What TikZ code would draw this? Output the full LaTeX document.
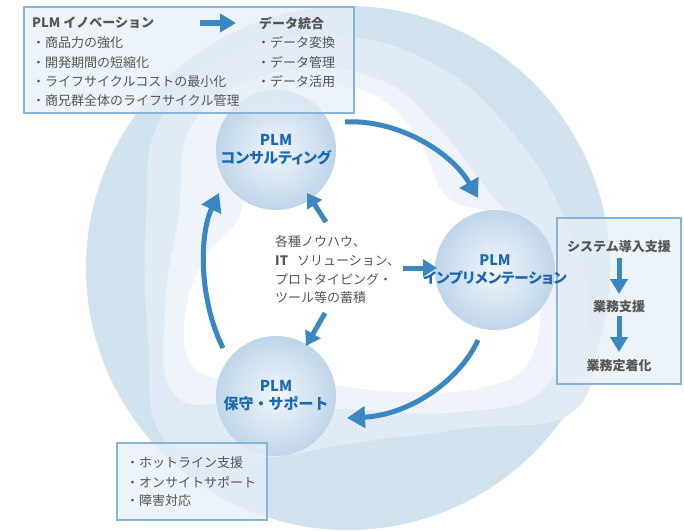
\documentclass[tikz,border=0pt]{standalone}
\usepackage{fontspec}
\setmainfont{Noto Sans CJK JP}
\newfontfamily\jpp{Noto Sans CJK JP}[RawFeature=+palt]
\usetikzlibrary{arrows.meta}
\definecolor{outerband}{HTML}{D1E2EF}
\definecolor{midband}{HTML}{E1EBF5}
\definecolor{lightband}{HTML}{EEF4FA}
\definecolor{boxline}{HTML}{86B4DA}
\definecolor{boxfill}{HTML}{E6EFF8}
\definecolor{arrowblue}{HTML}{3B87C2}
\definecolor{labelblue}{HTML}{1B69B0}
\definecolor{txt}{HTML}{555555}
\definecolor{sphereout}{HTML}{BFD5E9}
\definecolor{spherein}{HTML}{F2F7FC}
\begin{document}
\begin{tikzpicture}[x=1pt,y=-1pt,
  infobox/.style={draw=boxline, line width=1.1pt, fill=boxfill, fill opacity=0.75},
  sphere/.style={circle, minimum size=120pt, inner sep=0pt, inner color=spherein, outer color=sphereout},
  sphlabel/.style={text=labelblue, font=\jpp\fontsize{15}{18}\selectfont\bfseries, align=center, inner sep=0pt},
  sphlabelw/.style={text=labelblue, font=\fontsize{15}{18}\selectfont\bfseries, align=center, inner sep=0pt},
  item/.style={text=txt, font=\fontsize{13}{15}\selectfont, anchor=west, inner sep=0pt},
  bolditem/.style={text=txt, font=\fontsize{13}{15}\selectfont\bfseries, inner sep=0pt},
  bigarrow/.style={draw=arrowblue, line width=5pt, -{Triangle[length=18pt,width=21pt]}},
  smallarrow/.style={draw=arrowblue, line width=5pt, -{Triangle[length=14pt,width=17pt]}},
  boxarrow/.style={draw=arrowblue, line width=5pt, -{Triangle[length=15pt,width=17pt]}},
]
\useasboundingbox (0,0) rectangle (684,530);
\clip (0,0) rectangle (684,530);
\fill[white] (0,0) rectangle (684,530);
% background bands
\fill[outerband] (348,268) circle (262pt);
\fill[midband] plot[smooth cycle, tension=0.75] coordinates {
  (160,120) (230,55) (330,36) (430,62) (510,130) (565,220)
  (590,320) (575,410) (470,428) (360,442) (250,458) (165,440) (148,340) (146,220)};
\fill[lightband] plot[smooth cycle, tension=0.75] coordinates {
  (195,120) (280,72) (375,78) (440,130) (500,205) (552,250) (558,330)
  (540,392) (460,412) (360,410) (250,402) (175,395) (165,310) (178,220)};
\fill[white] plot[smooth cycle, tension=0.7] coordinates {
  (262,100) (330,86) (382,100) (420,142) (448,198) (510,222) (538,290)
  (530,360) (480,388) (400,392) (320,384) (230,380) (190,362) (186,310)
  (205,258) (240,215) (245,150)};
% spheres
\node[sphere] (cons) at (276,150) {};
\node[sphere] (impl) at (495,270) {};
\node[sphere] (supp) at (276,396) {};
% info boxes
\draw[infobox] (24,7) rectangle (354,113);
\draw[infobox] (557,218) rectangle (681,384);
\draw[infobox] (117,443) rectangle (267,520);
% sphere labels
\node[sphlabel] (consL) at (cons) {PLM\\コンサルティング};
\node[sphlabel, font=\jpp\fontsize{14.5}{18}\selectfont\bfseries] (implL) at (impl) {PLM\\インプリメンテーション};
\node[sphlabelw] (suppL) at (supp) {PLM\\保守・サポート};
% top-left box text
\node[bolditem, anchor=west] (tA) at (32,23) {PLM イノベーション};
\node[item] (tA1) at (32,43) {・商品力の強化};
\node[item] (tA2) at (32,62.5) {・開発期間の短縮化};
\node[item] (tA3) at (32,82) {・ライフサイクルコストの最小化};
\node[item] (tA4) at (32,101) {・商兄群全体のライフサイクル管理};
\node[bolditem, anchor=west] (tB) at (259,23) {データ統合};
\node[item] (tB1) at (257,43) {・データ変換};
\node[item] (tB2) at (257,62.5) {・データ管理};
\node[item] (tB3) at (257,82) {・データ活用};
\coordinate (tArS) at (200,23);
\coordinate (tArE) at (236,23);
\draw[draw=arrowblue, line width=6pt, -{Triangle[length=16pt,width=18pt]}] (tArS) -- (tArE);
% center text
\node[item] (c1) at (275,242) {各種ノウハウ、};
\node[item] (c2) at (275,261) {\textbf{IT}\hspace{9pt}ソリューション、};
\node[item] (c3) at (275,279.5) {プロトタイピング・};
\node[item] (c4) at (275,298) {ツール等の蓄積};
% right box text
\node[bolditem] (r1) at (619,247) {システム導入支援};
\node[bolditem] (r2) at (619,307) {業務支援};
\node[bolditem] (r3) at (619,366) {業務定着化};
\coordinate (r1a) at (619,258);
\coordinate (r1b) at (619,294);
\coordinate (r2a) at (619,316);
\coordinate (r2b) at (619,352);
\draw[boxarrow] (r1a) -- (r1b);
\draw[boxarrow] (r2a) -- (r2b);
% bottom box text
\node[item] (b1) at (126,463) {・ホットライン支援};
\node[item] (b2) at (126,482) {・オンサイトサポート};
\node[item] (b3) at (126,501) {・障害対応};
% big cycle arrows
\coordinate (a1s) at (345,122);
\coordinate (a1e) at (478,198);
\coordinate (a2s) at (478,340);
\coordinate (a2e) at (347,418);
\coordinate (a3s) at (223,348);
\coordinate (a3e) at (219,193);
\draw[bigarrow] (a1s) .. controls (395,119) and (450,150) .. (a1e);
\draw[bigarrow] (a2s) .. controls (460,380) and (410,415) .. (a2e);
\draw[bigarrow] (a3s) .. controls (199,300) and (199,235) .. (a3e);
% center small arrows
\coordinate (s1s) at (326,222);
\coordinate (s1e) at (307,193);
\coordinate (s2s) at (325,313);
\coordinate (s2e) at (306,346);
\coordinate (s3s) at (403,268);
\coordinate (s3e) at (437,268);
\draw[smallarrow] (s1s) -- (s1e);
\draw[smallarrow] (s2s) -- (s2e);
\draw[smallarrow] (s3s) -- (s3e);
\end{tikzpicture}
\end{document}
